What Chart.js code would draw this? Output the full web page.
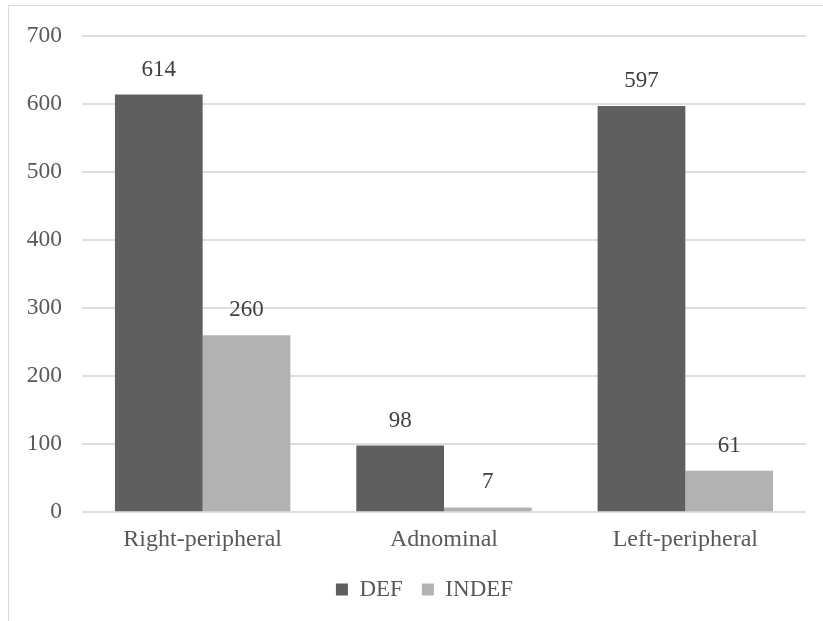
<!DOCTYPE html>
<html>
<head>
<meta charset="utf-8">
<script src="https://cdn.jsdelivr.net/npm/chart.js@4/dist/chart.umd.min.js"></script>
<style>
  html, body { margin: 0; padding: 0; background: #fff; overflow: hidden; width: 823px; height: 621px; }
  #frame {
    position: absolute; left: 8px; top: 5px;
    width: 842px; height: 640px;
    border: 1px solid #d9d9d9;
    background: #fff;
  }
  #chart { display: block; }
</style>
</head>
<body>
<div id="frame"><canvas id="chart" width="842" height="640"></canvas></div>
<script>
// Location categories and counts per series
const categories = ["Right-peripheral", "Adnominal", "Left-peripheral"];
const defValues = [614, 98, 597];
const indefValues = [260, 7, 61];
const seriesNames = ["DEF", "INDEF"];

const FONT = "'Liberation Serif', 'Times New Roman', serif";

// Value labels above each bar
const barValueLabels = {
  id: "barValueLabels",
  afterDatasetsDraw(chart) {
    const ctx = chart.ctx;
    ctx.save();
    ctx.font = "23px " + FONT;
    ctx.fillStyle = "#404040";
    ctx.textAlign = "center";
    ctx.textBaseline = "alphabetic";
    chart.data.datasets.forEach((ds, i) => {
      const meta = chart.getDatasetMeta(i);
      meta.data.forEach((bar, j) => {
        ctx.fillText(String(ds.data[j]), bar.x, bar.y - 19);
      });
    });
    ctx.restore();
  }
};

// Centre the legend under the full frame width rather than the canvas box
const legendShift = {
  id: "legendShift",
  afterLayout(chart) {
    const lg = chart.legend;
    if (lg) { lg.left += 17; lg.right += 17; }
  }
};

function draw() {
  new Chart(document.getElementById("chart"), {
    type: "bar",
    data: {
      labels: categories,
      datasets: [
        { label: seriesNames[0], data: defValues, backgroundColor: "#5f5f5f", borderWidth: 0 },
        { label: seriesNames[1], data: indefValues, backgroundColor: "#b2b2b2", borderWidth: 0 }
      ]
    },
    options: {
      responsive: false,
      animation: false,
      layout: { padding: { left: 0, right: 45, top: 30, bottom: 35 } },
      datasets: { bar: { categoryPercentage: 0.727, barPercentage: 1.0 } },
      scales: {
        x: {
          grid: { display: false },
          border: { display: false },
          ticks: { color: "#595959", font: { family: FONT, size: 24 }, padding: 5 }
        },
        y: {
          min: 0, max: 700,
          ticks: { stepSize: 100, color: "#595959", font: { family: FONT, size: 23.5 }, padding: 20 },
          grid: { color: "#dedede", lineWidth: 2, drawTicks: false },
          border: { display: false },
          afterFit(scale) { scale.width = 73; scale.paddingTop = 0; scale.paddingBottom = 0; }
        }
      },
      plugins: {
        legend: {
          position: "bottom",
          labels: {
            color: "#595959",
            font: { family: FONT, size: 23 },
            boxWidth: 12, boxHeight: 12,
            padding: 19
          }
        },
        tooltip: { enabled: false }
      }
    },
    plugins: [barValueLabels, legendShift]
  });
}

const fontReady = document.fonts && document.fonts.load
  ? document.fonts.load("23px 'Liberation Serif'").catch(() => {})
  : Promise.resolve();
fontReady.then(draw, draw);
</script>
</body>
</html>
